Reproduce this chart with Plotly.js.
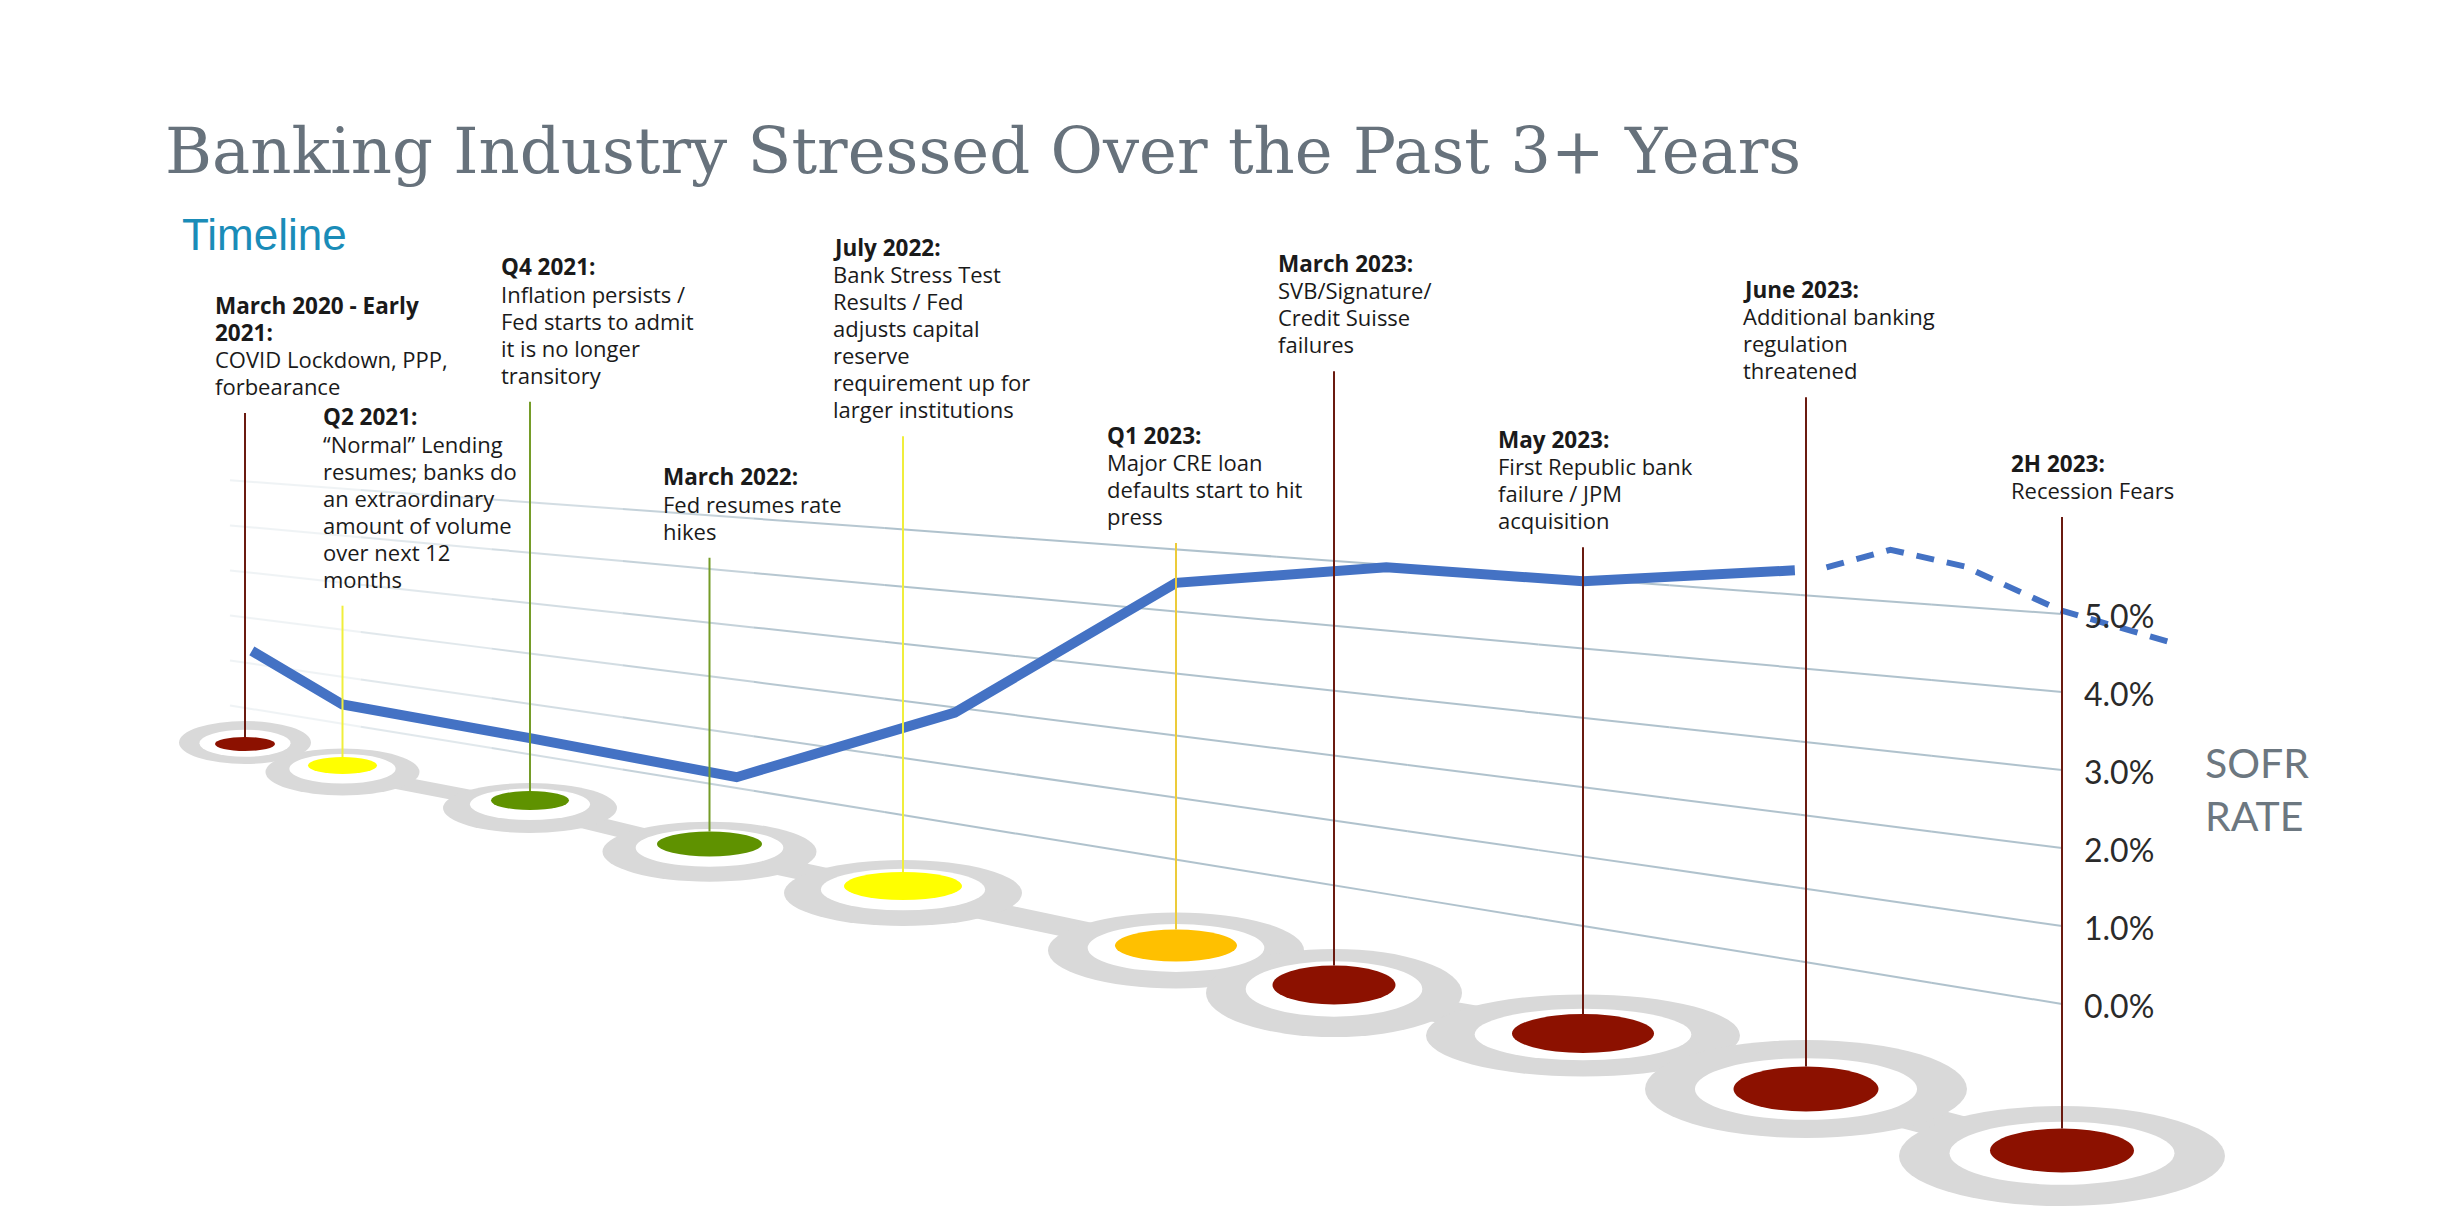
<!DOCTYPE html>
<html>
<head>
<meta charset="utf-8">
<script src="https://cdn.plot.ly/plotly-3.0.1.min.js"></script>
<style>
html,body{margin:0;padding:0;background:#ffffff;overflow:hidden}
#chart{width:2439px;height:1222px}
</style>
</head>
<body>
<div id="chart"></div>
<script>
// ===================== DATA =====================
const chartTitle = "Banking Industry Stressed Over the Past 3+ Years";
const sectionLabel = "Timeline";
const axisLabel = "SOFR<br>RATE";

const eventTitles = [
  ["March 2020 - Early", "2021:"],
  ["Q2 2021:"],
  ["Q4 2021:"],
  ["March 2022:"],
  ["July 2022:"],
  ["Q1 2023:"],
  ["March 2023:"],
  ["May 2023:"],
  ["June 2023:"],
  ["2H 2023:"]
];
const eventBodies = [
  ["COVID Lockdown, PPP,", "forbearance"],
  ["\u201CNormal\u201D Lending", "resumes; banks do", "an extraordinary", "amount of volume", "over next 12", "months"],
  ["Inflation persists /", "Fed starts to admit", "it is no longer", "transitory"],
  ["Fed resumes rate", "hikes"],
  ["Bank Stress Test", "Results / Fed", "adjusts capital", "reserve", "requirement up for", "larger institutions"],
  ["Major CRE loan", "defaults start to hit", "press"],
  ["SVB/Signature/", "Credit Suisse", "failures"],
  ["First Republic bank", "failure / JPM", "acquisition"],
  ["Additional banking", "regulation", "threatened"],
  ["Recession Fears"]
];
const eventLevels = ["red", "yellow", "green", "green", "yellow", "amber", "red", "red", "red", "red"];

// SOFR rate (%), positioned along the timeline (event index units)
const sofrActualPos = [0.07, 1.0, 2.0, 3.14, 4.19, 5.0, 6.21, 7.0, 7.95];
const sofrActualVal = [1.28, 0.41, 0.32, 0.20, 1.91, 4.46, 4.96, 4.97, 5.33];
const sofrProjPos = [8.08, 8.33, 8.62, 8.99, 9.46];
const sofrProjVal = [5.40, 5.69, 5.53, 5.05, 4.72];

const rateTicks = [0, 1, 2, 3, 4, 5];
const rateTickLabels = ["0.0%", "1.0%", "2.0%", "3.0%", "4.0%", "5.0%"];

// ===================== LAYOUT / GEOMETRY =====================
const W = 2439, H = 1222;
// timeline anchors (centre of each coloured disc)
const anchorX = [245, 342.5, 530, 709.5, 903, 1176, 1334, 1583, 1806, 2062];
const anchorY = [744, 765.5, 800.5, 844, 886, 945.5, 985, 1033.5, 1089, 1150.5];
const ringRx = [66, 77, 87, 107, 119, 128, 128, 157, 161, 163];
const ringRy = [21.5, 23.5, 25, 30, 33, 38, 44, 41, 49, 50];
const innerRx = [30, 34.5, 39, 52.5, 59, 61, 61.5, 71, 72.5, 72];
const innerRy = [7, 8.5, 9.5, 12.5, 14, 16, 19.5, 19.5, 22.5, 22];
const ringDy = [-1.5, 6.5, 7.5, 7.7, 7, 5, 8, 2, 0, 5.5];
const textX = [213, 320.5, 499, 661, 831, 1105, 1276, 1496, 1741, 2009];
const textY = [305, 416.7, 266.7, 476.7, 247.3, 435, 263.3, 439.3, 289.3, 463];
const LH = 27;

const levelStyle = {
  red:    {disc: "#8c1100", line: "#6a1a10"},
  yellow: {disc: "#ffff00", line: "#f0ee3c"},
  green:  {disc: "#5f9200", line: "#759c28"},
  amber:  {disc: "#ffc000", line: "#eccb3a"}
};

// perspective SOFR axis: gridlines converge towards a vanishing point on the left
const XR = 2062, VX = -2270, VY = 298;
function gridRightY(v) { return 1004 - 78 * v; }
function projY(x, v) { const yr = gridRightY(v); return VY + (yr - VY) * (x - VX) / (XR - VX); }
function posX(u) {
  const i = Math.min(Math.max(Math.floor(u), 0), anchorX.length - 2);
  const t = u - i;
  return anchorX[i] + t * (anchorX[i + 1] - anchorX[i]);
}

const shapes = [];
const annotations = [];

// gridlines (fade in from the left)
const gx0 = 230, nSeg = 14;
rateTicks.forEach(v => {
  for (let k = 0; k < nSeg; k++) {
    const xa = gx0 + (XR - gx0) * k / nSeg;
    const xb = gx0 + (XR - gx0) * (k + 1) / nSeg;
    const xm = (xa + xb) / 2;
    const op = 0.08 + 0.72 * Math.min(1, Math.max(0, (xm - gx0) / 650));
    shapes.push({type: "line", xref: "x", yref: "y", layer: "below",
      x0: xa, y0: projY(xa, v), x1: xb, y1: projY(xb, v),
      line: {color: "#9db4c1", width: 2}, opacity: op});
  }
});

// timeline track: bands + rings
const ringCY = anchorY.map((y, i) => y + ringDy[i]);
for (let i = 0; i < anchorX.length - 1; i++) {
  shapes.push({type: "line", xref: "x", yref: "y", layer: "below",
    x0: anchorX[i], y0: ringCY[i], x1: anchorX[i + 1], y1: ringCY[i + 1],
    line: {color: "#d9d9d9", width: 0.55 * (ringRy[i] + ringRy[i + 1]) / 2}});
}
anchorX.forEach((x, i) => {
  shapes.push({type: "circle", xref: "x", yref: "y", layer: "below",
    x0: x - ringRx[i], x1: x + ringRx[i], y0: ringCY[i] - ringRy[i], y1: ringCY[i] + ringRy[i],
    fillcolor: "#d9d9d9", line: {width: 0}});
});
anchorX.forEach((x, i) => {
  const cy = (anchorY[i] + ringCY[i]) / 2, rx = 0.69 * ringRx[i], ry = 0.63 * ringRy[i];
  shapes.push({type: "circle", xref: "x", yref: "y", layer: "below",
    x0: x - rx, x1: x + rx, y0: cy - ry, y1: cy + ry,
    fillcolor: "#ffffff", line: {width: 0}});
});
anchorX.forEach((x, i) => {
  shapes.push({type: "circle", xref: "x", yref: "y", layer: "below",
    x0: x - innerRx[i], x1: x + innerRx[i], y0: anchorY[i] - innerRy[i], y1: anchorY[i] + innerRy[i],
    fillcolor: levelStyle[eventLevels[i]].disc, line: {width: 0}});
});

// event texts (one annotation per line) and drop lines
eventTitles.forEach((titleLines, i) => {
  const lines = titleLines.map(s => ({s: s, bold: true}))
    .concat(eventBodies[i].map(s => ({s: s, bold: false})));
  lines.forEach((ln, j) => {
    annotations.push({xref: "x", yref: "y", x: textX[i], y: textY[i] + j * LH,
      xanchor: "left", yanchor: "middle", align: "left", showarrow: false,
      text: ln.bold ? "<b>" + ln.s + "</b>" : ln.s,
      font: {family: "'Open Sans', Lato, sans-serif", size: ln.bold ? 22.5 : 22, color: "#1a1a1a"}});
  });
  const top = textY[i] + (lines.length - 1) * LH + 27;
  shapes.push({type: "line", xref: "x", yref: "y", layer: "above",
    x0: anchorX[i], x1: anchorX[i], y0: top, y1: anchorY[i] - innerRy[i],
    line: {color: levelStyle[eventLevels[i]].line, width: 2}});
});

// axis tick labels
rateTicks.forEach((v, i) => {
  annotations.push({xref: "x", yref: "y", x: XR + 20, y: gridRightY(v) + 1,
    xanchor: "left", yanchor: "middle", showarrow: false, text: rateTickLabels[i],
    font: {family: "Lato, sans-serif", size: 32, color: "#2a2a2a"}});
});

annotations.push({xref: "x", yref: "y", x: 2203, y: 789, xanchor: "left", yanchor: "middle",
  align: "left", showarrow: false, text: axisLabel,
  font: {family: "Lato, sans-serif", size: 41, color: "#6c7780"}});
annotations.push({xref: "x", yref: "y", x: 163, y: 151, xanchor: "left", yanchor: "middle",
  showarrow: false, text: chartTitle,
  font: {family: "'DejaVu Serif', serif", size: 64, color: "#67727c"}});
annotations.push({xref: "x", yref: "y", x: 180, y: 234, xanchor: "left", yanchor: "middle",
  showarrow: false, text: sectionLabel,
  font: {family: "'Liberation Sans', Arial, sans-serif", size: 44, color: "#1a8cb8"}});

// SOFR traces
const actX = sofrActualPos.map(posX);
const actY = actX.map((x, i) => projY(x, sofrActualVal[i]));
const prjX = sofrProjPos.map(posX);
const prjY = prjX.map((x, i) => projY(x, sofrProjVal[i]));

const traces = [
  {type: "scatter", mode: "lines", x: actX, y: actY, hoverinfo: "skip",
    line: {color: "#4472c4", width: 10}},
  {type: "scatter", mode: "lines", x: prjX, y: prjY, hoverinfo: "skip",
    line: {color: "#4472c4", width: 6, dash: "18px,13px"}}
];

const layout = {
  width: W, height: H,
  margin: {l: 0, r: 0, t: 0, b: 0},
  paper_bgcolor: "#ffffff", plot_bgcolor: "#ffffff",
  showlegend: false,
  xaxis: {range: [0, W], visible: false, fixedrange: true},
  yaxis: {range: [H, 0], visible: false, fixedrange: true},
  shapes: shapes,
  annotations: annotations
};

Plotly.newPlot("chart", traces, layout, {displayModeBar: false, staticPlot: true});
</script>
</body>
</html>
